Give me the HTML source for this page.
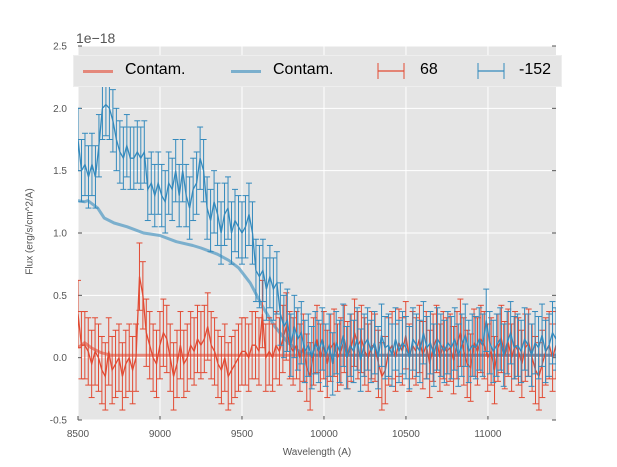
<!DOCTYPE html>
<html><head><meta charset="utf-8"><style>
body{margin:0;background:#fff;}
svg{display:block;font-family:"Liberation Sans",sans-serif;}
</style></head><body>
<svg id="chart" width="617" height="467" xmlns="http://www.w3.org/2000/svg"></svg>
<script>
const wavelengthStart = 8500, wavelengthEnd = 11415;
const blueFlux = [1.75,1.5,1.55,1.45,1.55,1.45,1.7,2.0,2.03,2.0,1.9,1.75,1.65,1.6,1.7,1.6,1.6,1.65,1.6,1.65,1.35,1.4,1.3,1.4,1.3,1.25,1.4,1.35,1.5,1.3,1.5,1.3,1.2,1.35,1.4,1.6,1.5,1.2,1.1,1.25,1.15,1.0,1.15,1.2,1.0,1.1,1.05,1.0,1.05,1.15,1.0,0.7,0.65,0.7,0.55,0.65,0.55,0.6,0.35,0.25,0.3,0.1,0.25,0.15,0.2,0.05,0.1,0.0,0.12,0.05,0.15,0.02,0.1,-0.05,0.12,0.05,0.18,0.0,0.1,0.05,0.15,-0.02,0.1,0.15,0.05,0.12,0.0,0.18,0.08,0.1,0.02,0.15,0.05,0.12,0.08,0.0,0.15,0.1,0.05,0.2,0.08,0.12,0.02,0.15,0.1,0.05,0.12,0.08,0.15,0.02,0.1,0.18,0.05,0.1,0.08,0.15,0.1,0.3,0.12,0.05,0.1,0.15,0.02,0.12,0.2,0.08,0.1,0.05,0.15,0.1,0.02,0.12,0.08,0.18,0.05,0.1,0.2,0.15];
const redFlux = [0.35,0.1,0.1,0.05,-0.05,0.05,0.0,-0.1,-0.15,0.05,-0.1,-0.05,0.0,-0.15,-0.05,0.0,-0.1,0.0,0.65,0.5,0.2,0.1,0.0,-0.05,0.1,0.2,0.15,0.0,-0.15,-0.05,0.1,-0.05,0.0,0.1,0.05,0.15,0.1,0.15,0.25,0.1,0.05,-0.05,-0.1,0.0,-0.15,-0.1,-0.05,0.0,0.05,0.05,0.0,0.1,0.1,0.05,0.35,0.0,0.05,0.0,0.1,0.05,0.15,0.25,0.1,0.05,0.1,0.0,0.08,-0.08,-0.15,0.05,0.15,0.0,0.1,-0.05,0.08,0.12,0.0,0.05,0.15,0.02,0.08,0.2,0.1,0.15,0.05,0.0,0.1,0.08,-0.05,-0.15,-0.1,0.05,0.1,0.0,0.12,0.05,0.18,0.0,0.1,0.05,0.15,0.02,0.1,-0.05,0.08,0.15,0.0,0.1,0.05,0.08,-0.02,0.1,0.2,0.05,-0.05,-0.08,0.12,0.05,0.15,0.1,0.0,0.05,-0.1,0.08,0.15,0.02,0.12,0.0,0.1,0.05,-0.05,0.08,0.12,0.0,-0.1,-0.15,-0.05,0.05,0.1,0.0,0.1];
const blueErr = 0.25, redErr = 0.27;
const blueContamX = [8500,8540,8560,8620,8660,8720,8800,8900,9000,9100,9200,9250,9350,9420,9480,9550,9630,9700,9780,9850,9950,10500,11420];
const blueContamY = [1.26,1.25,1.26,1.2,1.12,1.08,1.05,1.0,0.98,0.93,0.9,0.88,0.83,0.78,0.72,0.6,0.4,0.25,0.12,0.05,0.02,0.02,0.02];
const redContamX = [8500,8540,8580,8640,8700,9000,11420];
const redContamY = [0.08,0.12,0.08,0.04,0.02,0.02,0.02];
const xTicks = [8500,9000,9500,10000,10500,11000];
const yTicks = [-0.5,0.0,0.5,1.0,1.5,2.0,2.5];

const L=78,R=556,T=46,B=420,xmin=8500,xmax=11415,ymin=-0.5,ymax=2.5;
const sx=v=>L+(v-xmin)/(xmax-xmin)*(R-L);
const sy=v=>B-(v-ymin)/(ymax-ymin)*(B-T);
const svg=document.getElementById('chart');
const NS='http://www.w3.org/2000/svg';
function mk(tag,attrs,parent){const e=document.createElementNS(NS,tag);for(const k in attrs)e.setAttribute(k,attrs[k]);(parent||svg).appendChild(e);return e;}
const cp=mk('clipPath',{id:'clip'});mk('rect',{x:L,y:T,width:R-L,height:B-T},cp);
const bg=mk('rect',{x:L,y:T,width:R-L,height:B-T,fill:'#e5e5e5'});


xTicks.forEach(t=>{
 const g=mk('line',{x1:sx(t),x2:sx(t),y1:T,y2:B,stroke:'#fff','stroke-width':1});
 
 
 mk('line',{x1:sx(t),x2:sx(t),y1:B,y2:B-4,stroke:'#555'});
 const tx=mk('text',{x:sx(t),y:B+17,'font-size':10,fill:'#555','text-anchor':'middle'});tx.textContent=t;
 
 
});
yTicks.forEach(t=>{
 const g=mk('line',{x1:L,x2:R,y1:sy(t),y2:sy(t),stroke:'#fff','stroke-width':1});
 
 
 mk('line',{x1:L,x2:L+4,y1:sy(t),y2:sy(t),stroke:'#555'});
 mk('line',{x1:R,x2:R-4,y1:sy(t),y2:sy(t),stroke:'#555'});
 const tx=mk('text',{x:L-11,y:sy(t)+3.5,'font-size':10,fill:'#555','text-anchor':'end'});tx.textContent=t.toFixed(1);
 
 
});
const plot=mk('g',{'clip-path':'url(#clip)'});
function line(xs,ys,color,w,op,name){
 const d=xs.map((x,i)=>(i?'L':'M')+sx(x).toFixed(1)+','+sy(ys[i]).toFixed(1)).join('');
 const p=mk('path',{d,fill:'none',stroke:color,'stroke-width':w,'stroke-opacity':op,'stroke-linejoin':'round'},plot);
 
 
}
line(redContamX,redContamY,'#e24a33',3,0.6,'red-contam-line');
line(blueContamX,blueContamY,'#348abd',3,0.6,'blue-contam-line');
function errSeries(vals,err,color,name){
 const g=mk('g',{},plot);
 
 
 const step=(wavelengthEnd-wavelengthStart)/(vals.length-1);
 const xs=vals.map((v,i)=>wavelengthStart+i*step);
 vals.forEach((v,i)=>{
  const x=sx(xs[i]),y1=sy(v-err),y2=sy(v+err);
  mk('line',{x1:x,x2:x,y1,y2,stroke:color,'stroke-width':1},g);
  mk('line',{x1:x-3,x2:x+3,y1,y2:y1,stroke:color,'stroke-width':1},g);
  mk('line',{x1:x-3,x2:x+3,y1:y2,y2:y2,stroke:color,'stroke-width':1},g);
 });
 const d=xs.map((x,i)=>(i?'L':'M')+sx(x).toFixed(1)+','+sy(vals[i]).toFixed(1)).join('');
 mk('path',{d,fill:'none',stroke:color,'stroke-width':1.3},g);
}
errSeries(redFlux,redErr,'#e24a33','series-68');
errSeries(blueFlux,blueErr,'#348abd','series-minus-152');
</script>
<div style="position:absolute;left:0;top:0;width:617px;height:467px;pointer-events:none;font-family:'Liberation Sans',sans-serif;">
 <div style="position:absolute;left:76px;top:30px;font-size:14px;color:#555;">1e−18</div>
 <div style="position:absolute;left:0;width:634px;top:447px;text-align:center;font-size:10px;color:#555;">Wavelength (A)</div>
 <div style="position:absolute;left:-45px;top:226px;width:150px;text-align:center;font-size:10px;color:#555;transform:rotate(-90deg);">Flux (erg/s/cm^2/A)</div>
 <div style="position:absolute;left:73px;top:55px;width:487px;height:30px;background:#e5e5e5;border:1px solid #eee;font-size:16px;color:#000;">
  <div style="position:absolute;left:9px;top:14px;width:30px;height:3px;background:rgba(226,74,51,0.6);"></div>
  <div style="position:absolute;left:51px;top:5px;">Contam.</div>
  <div style="position:absolute;left:157px;top:14px;width:30px;height:3px;background:rgba(52,138,189,0.6);"></div>
  <div style="position:absolute;left:199px;top:5px;">Contam.</div>
  <svg style="position:absolute;left:302px;top:4px;" width="30" height="22"><line x1="2" x2="28" y1="11" y2="11" stroke="#e24a33" stroke-width="1.3"/><line x1="2" x2="2" y1="3" y2="19" stroke="#e24a33"/><line x1="28" x2="28" y1="3" y2="19" stroke="#e24a33"/></svg>
  <div style="position:absolute;left:346px;top:5px;">68</div>
  <svg style="position:absolute;left:402px;top:4px;" width="30" height="22"><line x1="2" x2="28" y1="11" y2="11" stroke="#348abd" stroke-width="1.3"/><line x1="2" x2="2" y1="3" y2="19" stroke="#348abd"/><line x1="28" x2="28" y1="3" y2="19" stroke="#348abd"/></svg>
  <div style="position:absolute;left:445px;top:5px;">-152</div>
 </div>
</div>
</body></html>
